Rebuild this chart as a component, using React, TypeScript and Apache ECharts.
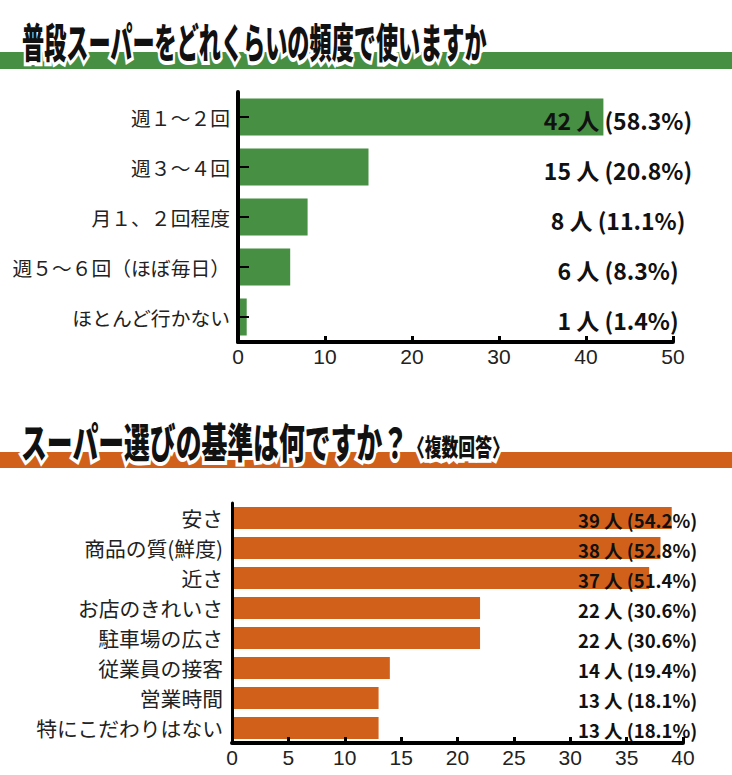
import { useEffect, useRef } from "react";
import * as echarts from "echarts";

/** 普段スーパーをどれくらいの頻度で使いますか */
const freqCategories = ["週１～２回", "週３～４回", "月１、２回程度", "週５～６回（ほぼ毎日）", "ほとんど行かない"];
const freqCounts = [42, 15, 8, 6, 1];
const freqPercents = ["58.3", "20.8", "11.1", "8.3", "1.4"];

/** スーパー選びの基準は何ですか？（複数回答） */
const reasonCategories = [
  "安さ",
  "商品の質(鮮度)",
  "近さ",
  "お店のきれいさ",
  "駐車場の広さ",
  "従業員の接客",
  "営業時間",
  "特にこだわりはない",
];
const reasonCounts = [39, 38, 37, 22, 22, 14, 13, 13];
const reasonPercents = ["54.2", "52.8", "51.4", "30.6", "30.6", "19.4", "18.1", "18.1"];

const GREEN = "#478f42";
const ORANGE = "#d1611a";
const JP = '"Noto Sans CJK JP", "Noto Sans", sans-serif';
const NUM = '"Liberation Sans", Arial, sans-serif';

function titleText(text: string, x: number, y: number, size: number, scaleX: number) {
  return {
    type: "text",
    x,
    y,
    scaleX,
    z: 10,
    style: {
      text,
      fontSize: size,
      fontWeight: 900,
      fontFamily: JP,
      fill: "#111",
      stroke: "#fff",
      lineWidth: 8,
      textVerticalAlign: "middle",
    },
  };
}

export default function App() {
  const ref = useRef<HTMLDivElement>(null);
  useEffect(() => {
    if (!ref.current) return;
    const chart = echarts.init(ref.current, null, { renderer: "svg" });
    const valueAxis = (max: number, interval: number, gridIndex: number) => ({
      type: "value",
      gridIndex,
      min: 0,
      max,
      interval,
      splitLine: { show: false },
      axisLine: { show: true, lineStyle: { color: "#000", width: 4 } },
      axisTick: { show: true, inside: true, length: 6, lineStyle: { color: "#000", width: 3 } },
      axisLabel: { color: "#222", fontSize: 21, fontFamily: NUM, margin: 4 },
      z: 5,
    });
    chart.setOption({
      animation: false,
      backgroundColor: "#fff",
      graphic: [
        { type: "rect", shape: { x: 0, y: 52, width: 732, height: 17 }, style: { fill: GREEN }, z: 1 },
        { type: "rect", shape: { x: 0, y: 452, width: 732, height: 16 }, style: { fill: ORANGE }, z: 1 },
        titleText("普段スーパーをどれくらいの頻度で使いますか", 22, 40, 41, 0.54),
        titleText("スーパー選びの基準は何ですか？", 21, 440, 41, 0.63),
        titleText("〈複数回答〉", 408, 446, 24, 0.7),
      ],
      grid: [
        { left: 238, right: 59, top: 92, height: 250 },
        { left: 232, right: 49, top: 503, height: 240 },
      ],
      xAxis: [valueAxis(50, 10, 0), valueAxis(40, 5, 1)],
      yAxis: [
        {
          type: "category",
          gridIndex: 0,
          inverse: true,
          data: freqCategories,
          axisLine: { lineStyle: { color: "#000", width: 4 } },
          axisTick: { show: true, inside: true, alignWithLabel: true, length: 11, lineStyle: { color: "#000", width: 2 } },
          axisLabel: { color: "#222", fontSize: 19.8, fontFamily: JP, margin: 8 },
          z: 5,
        },
        {
          type: "category",
          gridIndex: 1,
          inverse: true,
          data: reasonCategories,
          axisLine: { lineStyle: { color: "#000", width: 3 } },
          axisTick: { show: false },
          axisLabel: { color: "#222", fontSize: 20.8, fontFamily: JP, margin: 9 },
          z: 5,
        },
      ],
      series: [
        {
          type: "bar",
          xAxisIndex: 0,
          yAxisIndex: 0,
          barWidth: 37,
          data: freqCounts,
          itemStyle: { color: GREEN },
          label: {
            show: true,
            position: [380, "50%"],
            align: "center",
            verticalAlign: "middle",
            offset: [0, 3],
            color: "#111",
            fontSize: 23,
            fontWeight: "bold",
            fontFamily: JP,
            formatter: (p: any) => `${freqCounts[p.dataIndex]} 人 (${freqPercents[p.dataIndex]}%)`,
          },
        },
        {
          type: "bar",
          xAxisIndex: 1,
          yAxisIndex: 1,
          barWidth: 22,
          data: reasonCounts,
          itemStyle: { color: ORANGE },
          label: {
            show: true,
            position: [346, "50%"],
            align: "left",
            verticalAlign: "middle",
            offset: [0, 2],
            color: "#111",
            fontSize: 18.5,
            fontWeight: "bold",
            fontFamily: JP,
            formatter: (p: any) => `${reasonCounts[p.dataIndex]} 人 (${reasonPercents[p.dataIndex]}%)`,
          },
        },
      ],
    });
    return () => chart.dispose();
  }, []);
  return <div ref={ref} style={{ position: "fixed", left: 0, top: 0, width: 732, height: 775 }} />;
}
